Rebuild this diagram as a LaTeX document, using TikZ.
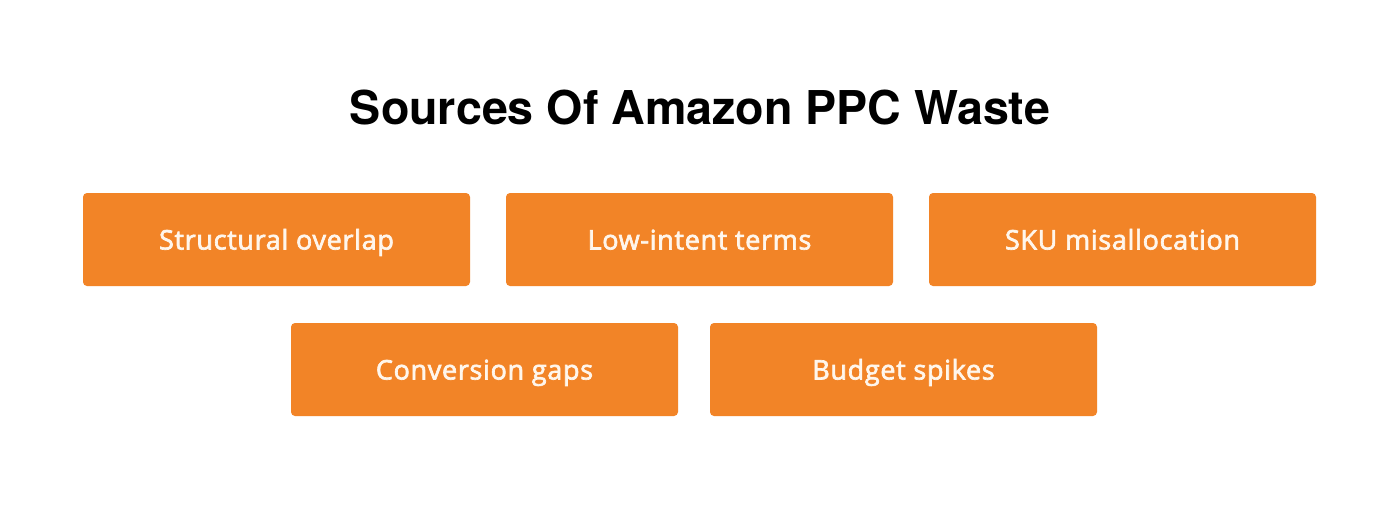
\documentclass[tikz,border=0pt]{standalone}
\usepackage{fontspec}
\setmainfont{Open Sans}
\newfontfamily\titlefont{TeX Gyre Heros}
\newfontfamily\boxfont{Open Sans}[FakeBold=2.5,LetterSpace=2.5]
\definecolor{ppcorange}{HTML}{F28427}
\definecolor{boxtext}{HTML}{FFF6EC}
\begin{document}
\begin{tikzpicture}[x=1pt,y=-1pt,
  wastebox/.style={fill=ppcorange, rounded corners=4pt, minimum width=387pt, minimum height=93pt, inner sep=0pt},
  boxlabel/.style={anchor=base, inner sep=0pt, text=boxtext, font=\boxfont\fontsize{27}{30}\selectfont},
]
\useasboundingbox[fill=white] (0,0) rectangle (1400,507);
\node[font=\titlefont\bfseries\fontsize{46.6}{52}\selectfont] (title) at (700,108) {Sources Of Amazon PPC Waste};
\node[wastebox] (b1) at (276.5,239.5) {};
\node[wastebox] (b2) at (699.5,239.5) {};
\node[wastebox] (b3) at (1122.5,239.5) {};
\node[wastebox] (b4) at (484.5,369.5) {};
\node[wastebox] (b5) at (903.5,369.5) {};
\node[boxlabel] (t1) at ([yshift=-10pt]b1.center) {Structural overlap};
\node[boxlabel] (t2) at ([yshift=-10pt]b2.center) {Low-intent terms};
\node[boxlabel] (t3) at ([yshift=-10pt]b3.center) {SKU misallocation};
\node[boxlabel] (t4) at ([yshift=-10pt]b4.center) {Conversion gaps};
\node[boxlabel] (t5) at ([yshift=-10pt]b5.center) {Budget spikes};
\end{tikzpicture}
\end{document}
